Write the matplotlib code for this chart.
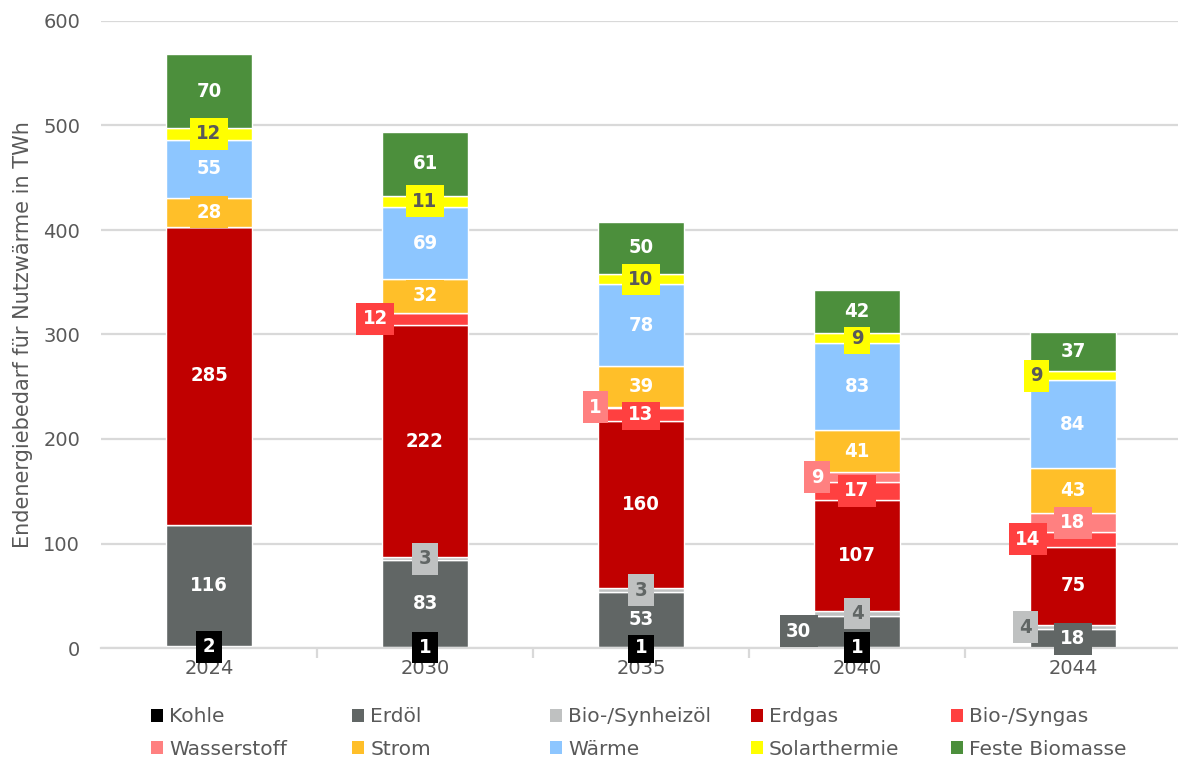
import matplotlib
matplotlib.use('Agg')
import matplotlib.pyplot as plt
from matplotlib.patches import Patch
import numpy as np

plt.rcParams['font.family'] = ['DejaVu Sans']

years = ['2024', '2030', '2035', '2040', '2044']
series_names = ['Kohle', 'Erdöl', 'Bio-/Synheizöl', 'Erdgas', 'Bio-/Syngas',
                'Wasserstoff', 'Strom', 'Wärme', 'Solarthermie', 'Feste Biomasse']
kohle = [2, 1, 1, 1, 0]
erdoel = [116, 83, 53, 30, 18]
bioheizoel = [0, 3, 3, 4, 4]
erdgas = [285, 222, 160, 107, 75]
biogas = [0, 12, 13, 17, 14]
wasserstoff = [0, 0, 1, 9, 18]
strom = [28, 32, 39, 41, 43]
waerme = [55, 69, 78, 83, 84]
solar = [12, 11, 10, 9, 9]
biomasse = [70, 61, 50, 42, 37]
values = [kohle, erdoel, bioheizoel, erdgas, biogas, wasserstoff, strom, waerme, solar, biomasse]

colors = ['#000000', '#616665', '#BFC1C1', '#C00000', '#FF4040',
          '#FF8080', '#FFBF29', '#8DC6FF', '#FFFF00', '#4C8F3C']
text_colors = ['white', 'white', '#616665', 'white', 'white',
               'white', 'white', 'white', '#595959', 'white']
# horizontal label offsets (style only)
label_dx = {(4, 1): -0.23, (5, 2): -0.21, (5, 3): -0.185, (1, 3): -0.27,
            (4, 4): -0.21, (2, 4): -0.22, (8, 4): -0.17}

W, H = 1178, 762
fig = plt.figure(figsize=(W / 100, H / 100), dpi=100)
ax = fig.add_axes([101 / W, 1 - 648 / H, 1080 / W, (648 - 21) / H])

x = np.arange(len(years))
bw = 0.395
bottom = np.zeros(len(years))
for i, (name, vals) in enumerate(zip(series_names, values)):
    vals = np.array(vals, dtype=float)
    ax.bar(x, vals, bw, bottom=bottom, color=colors[i], edgecolor='white',
           linewidth=1.0, zorder=2, label=name)
    for j, v in enumerate(vals):
        if v > 0:
            ax.text(x[j] + label_dx.get((i, j), 0), bottom[j] + v / 2, f'{int(v)}',
                    ha='center', va='center', fontsize=14.5, fontweight='bold',
                    fontstretch='condensed',
                    color=text_colors[i], zorder=5,
                    bbox=dict(boxstyle='square,pad=0.32', facecolor=colors[i],
                              edgecolor='none'))
    bottom += vals

ax.set_xlim(-0.5, len(years) - 0.5)
ax.set_ylim(0, 600)
ax.set_yticks(range(0, 601, 100))
ax.yaxis.grid(True, color='#D9D9D9', linewidth=1.6, zorder=0)
ax.set_axisbelow(True)
for s in ['top', 'right', 'left']:
    ax.spines[s].set_visible(False)
ax.spines['bottom'].set_color('#D9D9D9')
ax.spines['bottom'].set_linewidth(1.6)
ax.tick_params(axis='y', length=0, labelsize=14, labelcolor='#595959', pad=15)
ax.set_xticks(x)
ax.set_xticklabels(years)
ax.tick_params(axis='x', length=0, labelsize=14, labelcolor='#595959', pad=8)
ax.set_xticks(np.arange(0.5, len(years) - 0.5, 1), minor=True)
ax.tick_params(axis='x', which='minor', length=7, width=1.6, color='#D9D9D9')
ax.set_ylabel('Endenergiebedarf für Nutzwärme in TWh', fontsize=15, color='#595959', labelpad=7)

# legend: five columns, each a legend of two entries
col_x = [151, 352, 550, 751, 951]
handles = [Patch(facecolor=c, edgecolor='none') for c in colors]
for k in range(5):
    hs = [handles[k], handles[k + 5]]
    ls = [series_names[k], series_names[k + 5]]
    leg = fig.legend(hs, ls, loc='center left',
                     bbox_to_anchor=(col_x[k] / W, 1 - 733 / H),
                     frameon=False, fontsize=14.5, handlelength=0.6, handleheight=0.6,
                     handletextpad=0.3, labelspacing=0.66, borderpad=0, borderaxespad=0)
    for t in leg.get_texts():
        t.set_color('#595959')

fig.savefig('out.png', dpi=100)
